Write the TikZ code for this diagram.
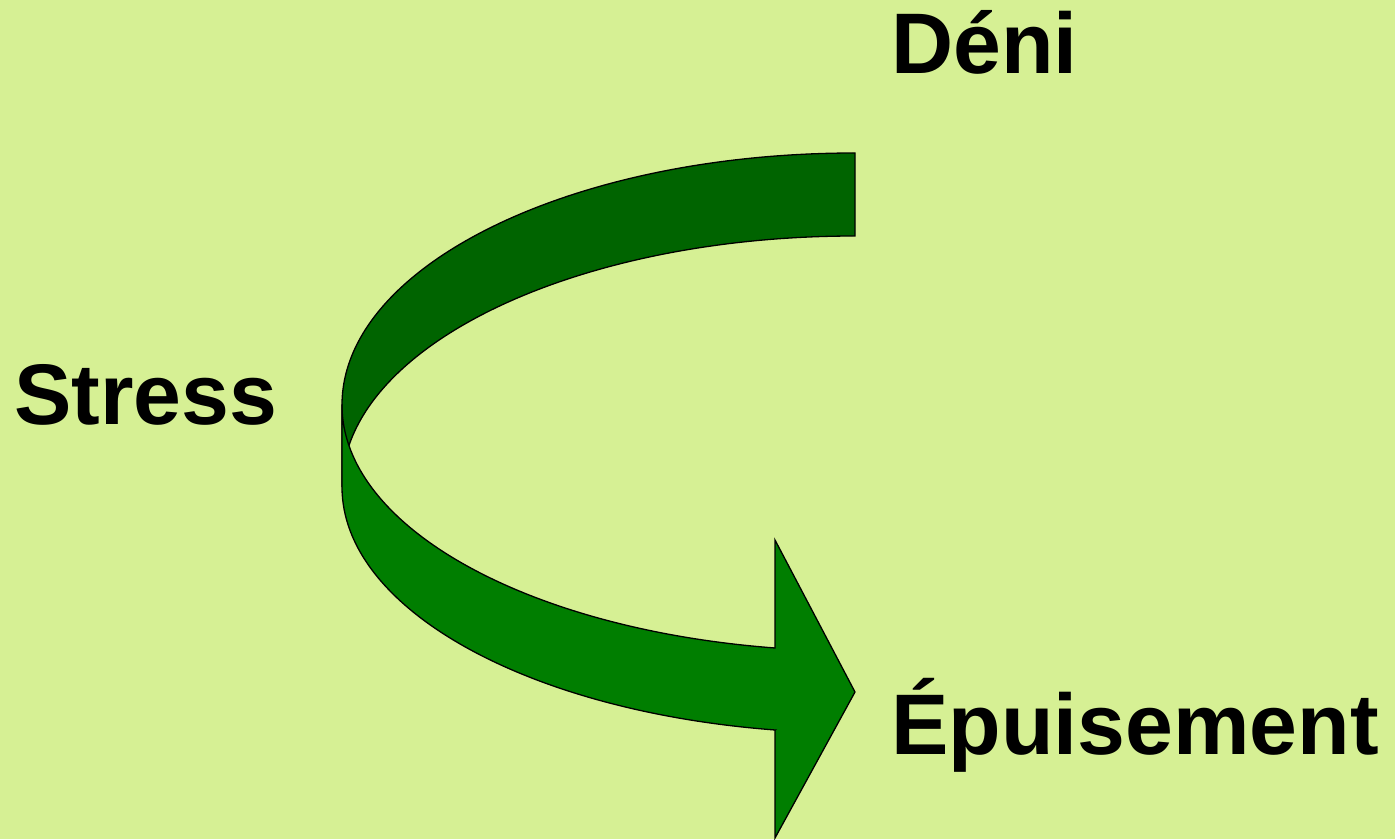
\documentclass[tikz,border=0pt]{standalone}
\usepackage{fontspec}
\setmainfont{Liberation Sans}
\definecolor{bgcol}{RGB}{214,240,148}
\definecolor{darkband}{RGB}{0,100,0}
\definecolor{lightband}{RGB}{0,126,0}
\tikzset{
  lbl/.style={anchor=base west, inner sep=0pt, font=\fontsize{86}{90}\selectfont\bfseries, text=black},
  band/.style={draw=black, line width=1.3pt, line join=miter},
}
\begin{document}
\begin{tikzpicture}[x=1pt,y=1pt]
\fill[bgcol] (0,0) rectangle (1395,839);
\useasboundingbox (0,0) rectangle (1395,839);
% key points (y up, image y' = 839 - y)
\coordinate (topout) at (855,686);
\coordinate (topin) at (855,603);
\coordinate (leftA) at (342,434);
\coordinate (leftB) at (342,352);
\coordinate (stemin) at (775,191);
\coordinate (stemout) at (775,109);
\coordinate (headtop) at (775,299);
\coordinate (headbot) at (775,1);
\coordinate (tip) at (855,147);
% upper (back) band
\filldraw[band, fill=darkband] (topout) arc[start angle=90, end angle=180, x radius=513, y radius=252]
  -- (leftB) arc[start angle=180, end angle=90, x radius=513, y radius=251] -- (topin) -- cycle;
% lower (front) band with arrow head
\filldraw[band, fill=lightband] (leftA) -- (leftB)
  arc[start angle=180, end angle=261.03, x radius=513, y radius=246]
  -- (stemout) -- (headbot) -- (tip) -- (headtop) -- (stemin)
  arc[start angle=261.03, end angle=180, x radius=513, y radius=246] -- cycle;
% labels
\node[lbl] (deni) at (891,765) {Déni};
\node[lbl] (stress) at (14,414) {Stress};
\node[lbl] (epuis) at (891,85) {Épuisement};
\end{tikzpicture}
\end{document}
